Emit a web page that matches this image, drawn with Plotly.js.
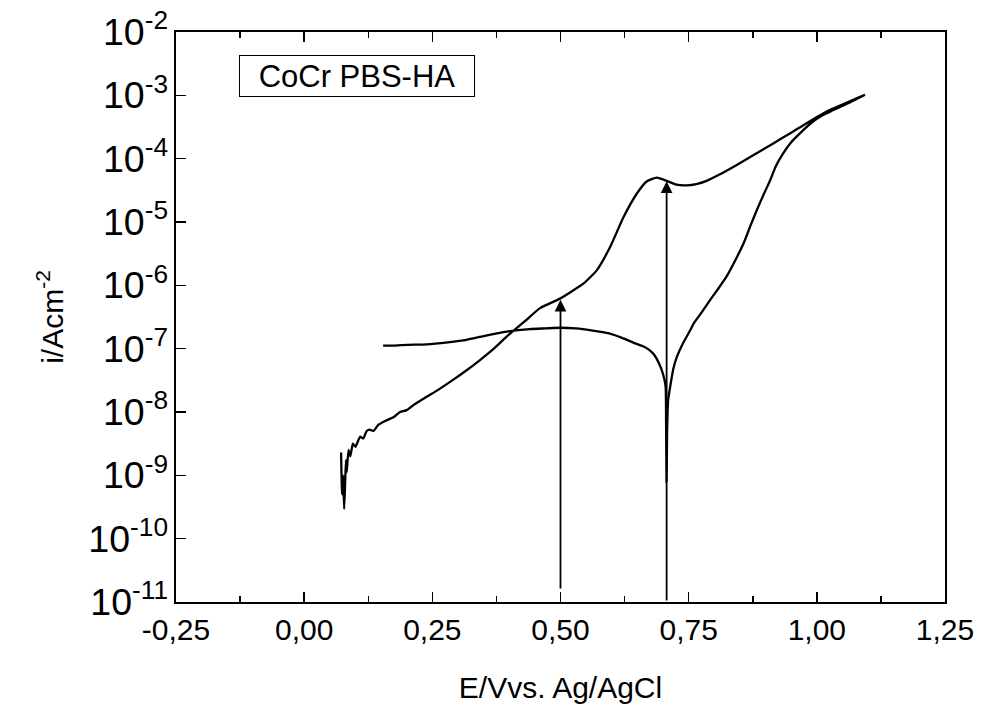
<!DOCTYPE html>
<html>
<head>
<meta charset="utf-8">
<script src="https://cdn.plot.ly/plotly-3.0.1.min.js"></script>
<style>html,body{margin:0;padding:0;background:#fff;}#chart{width:988px;height:712px;}</style>
</head>
<body>
<div id="chart"></div>
<script>
// Forward scan (E in V vs Ag/AgCl, i in A/cm^2)
const forwardE = [0.072,0.074,0.076,0.078,0.080,0.0815,0.083,0.0865,0.090,0.095,0.100,0.109,0.115,0.122,0.128,0.135,0.145,0.161,0.175,0.187,0.200,0.215,0.239,0.265,0.291,0.317,0.343,0.370,0.395,0.430,0.460,0.499,0.545,0.571,0.597,0.623,0.649,0.668,0.688,0.707,0.726,0.746,0.765,0.785,0.810,0.837,0.875,0.915,0.950,0.980,1.026,1.060,1.094];
const forwardI = [2.29e-9,5.0e-10,1.0e-9,2.95e-10,7.9e-10,1.74e-9,1.12e-9,2.51e-9,2.0e-9,3.16e-9,2.82e-9,4.07e-9,3.80e-9,5.01e-9,5.25e-9,5.01e-9,6.31e-9,7.41e-9,8.32e-9,1.0e-8,1.07e-8,1.32e-8,1.74e-8,2.34e-8,3.24e-8,4.57e-8,6.61e-8,1.0e-7,1.55e-7,2.69e-7,4.37e-7,6.17e-7,1.07e-6,1.74e-6,4.07e-6,1.20e-5,2.82e-5,4.37e-5,5.01e-5,4.47e-5,3.89e-5,3.80e-5,3.98e-5,4.47e-5,5.62e-5,7.41e-5,1.12e-4,1.74e-4,2.57e-4,3.63e-4,5.89e-4,7.76e-4,1.02e-3];
// Reverse scan
const reverseE = [1.094,1.060,1.030,1.012,0.990,0.967,0.950,0.934,0.920,0.909,0.896,0.883,0.870,0.857,0.840,0.824,0.808,0.792,0.776,0.760,0.753,0.740,0.727,0.720,0.715,0.710,0.708,0.707,0.706,0.705,0.700,0.692,0.683,0.673,0.660,0.647,0.620,0.595,0.560,0.530,0.500,0.471,0.440,0.395,0.350,0.317,0.280,0.239,0.200,0.175,0.154];
const reverseI = [1.02e-3,7.41e-4,5.75e-4,4.90e-4,3.72e-4,2.51e-4,1.82e-4,1.20e-4,7.59e-5,4.57e-5,2.69e-5,1.55e-5,8.51e-6,4.57e-6,2.40e-6,1.38e-6,8.91e-7,5.89e-7,3.80e-7,2.51e-7,1.95e-7,1.26e-7,7.41e-8,4.79e-8,2.82e-8,1.55e-8,5.01e-9,7.9e-10,6.31e-9,2.51e-8,3.98e-8,5.89e-8,7.94e-8,9.55e-8,1.10e-7,1.20e-7,1.48e-7,1.74e-7,1.95e-7,2.09e-7,2.14e-7,2.09e-7,2.04e-7,1.86e-7,1.58e-7,1.38e-7,1.26e-7,1.17e-7,1.15e-7,1.12e-7,1.12e-7];
// Arrows
const arrowE = [0.50, 0.707];
const arrowTipI = [5.9e-7, 4.4e-5];
const arrowBaseI = [1.55e-11, 1.0e-11];
// Axis ticks
const xTickVals = [-0.25,0,0.25,0.5,0.75,1.0,1.25];
const xTickText = ['-0,25','0,00','0,25','0,50','0,75','1,00','1,25'];
const yExponents = [-2,-3,-4,-5,-6,-7,-8,-9,-10,-11];
const yTickText = ['10<sup>-2</sup>','10<sup>-3</sup>','10<sup>-4</sup>','10<sup>-5</sup>','10<sup>-6</sup>','10<sup>-7</sup>','10<sup>-8</sup>','10<sup>-9</sup>','10<sup>-10</sup>','10<sup>-11</sup>'];
const legendText = 'CoCr PBS-HA';

const FONT = 'Liberation Sans, Arial, Helvetica, sans-serif';
const PLOT_W = 988 - 176 - 43;

const yAlias = {};
yExponents.forEach((p, k) => {
  yAlias['10<sup>\u2212' + (-p) + '</sup>'] = yTickText[k];
  yAlias['10<sup>' + p + '</sup>'] = yTickText[k];
});

// inward tick marks along the left axis: major at decades, minor at 2..9
const shapes = [];
yExponents.forEach(p => {
  shapes.push({type:'line', xref:'paper', yref:'y', x0:0, x1:10/PLOT_W, y0:p, y1:p,
               line:{color:'#000', width:2}});
  if (p > -11) {
    for (let m = 2; m <= 9; m++) {
      const v = Math.log10(m) + p - 1;
      shapes.push({type:'line', xref:'paper', yref:'y', x0:0, x1:6/PLOT_W, y0:v, y1:v,
                   line:{color:'#000', width:1.4}});
    }
  }
});

const allE = forwardE.concat(reverseE);
const allI = forwardI.concat(reverseI);

const traces = [
  {x: allE, y: allI, type:'scatter', mode:'lines',
   line:{color:'#000', width:2.3, shape:'spline', smoothing:0.5}, hoverinfo:'skip', showlegend:false}
];

const annotations = arrowE.map((e, k) => ({
  x: e, y: Math.log10(arrowTipI[k]), xref:'x', yref:'y',
  ax: e, ay: Math.log10(arrowBaseI[k]), axref:'x', ayref:'y',
  showarrow:true, arrowhead:2, arrowsize:1.3, arrowwidth:1.8, arrowcolor:'#000', text:''
}));
annotations.push({
  x:0.2354, y:0.9228, xref:'paper', yref:'paper', xanchor:'center', yanchor:'middle',
  text: legendText, showarrow:false, font:{family:FONT, size:31, color:'#000'},
  bordercolor:'#000', borderwidth:1, borderpad:3, width:228, height:34, align:'center', bgcolor:'#fff'
});

const layout = {
  width:988, height:712,
  margin:{l:176, r:43, t:32, b:110},
  paper_bgcolor:'#fff', plot_bgcolor:'#fff',
  font:{family:FONT, size:30, color:'#000'},
  showlegend:false,
  xaxis:{
    range:[-0.25,1.25], tickmode:'array', tickvals:xTickVals, ticktext:xTickText,
    ticks:'inside', ticklen:10, tickwidth:1.5, tickcolor:'#000',
    minor:{ticks:'inside', ticklen:6, tickwidth:1.5, dtick:0.125, tick0:-0.25, tickcolor:'#000'},
    showline:true, linecolor:'#000', linewidth:2, mirror:'ticks',
    showgrid:false, zeroline:false,
    tickfont:{family:FONT, size:30, color:'#000'},
    title:{text:'E/Vvs. Ag/AgCl', font:{family:FONT, size:30, color:'#000'}, standoff:32}
  },
  yaxis:{
    type:'log', range:[-11,-2], tickmode:'linear', tick0:0, dtick:1,
    exponentformat:'power', showexponent:'all', labelalias:yAlias,
    ticks:'inside', ticklen:10, tickwidth:1.6, tickcolor:'#000',
    showline:true, linecolor:'#000', linewidth:2, mirror:true,
    showgrid:false, zeroline:false,
    tickfont:{family:FONT, size:30, color:'#000'},
    title:{text:'i/Acm<sup>-2</sup>', font:{family:FONT, size:30, color:'#000'}, standoff:16}
  },
  shapes: shapes,
  annotations: annotations
};

Plotly.newPlot('chart', traces, layout, {displayModeBar:false, staticPlot:true});
</script>
</body>
</html>
